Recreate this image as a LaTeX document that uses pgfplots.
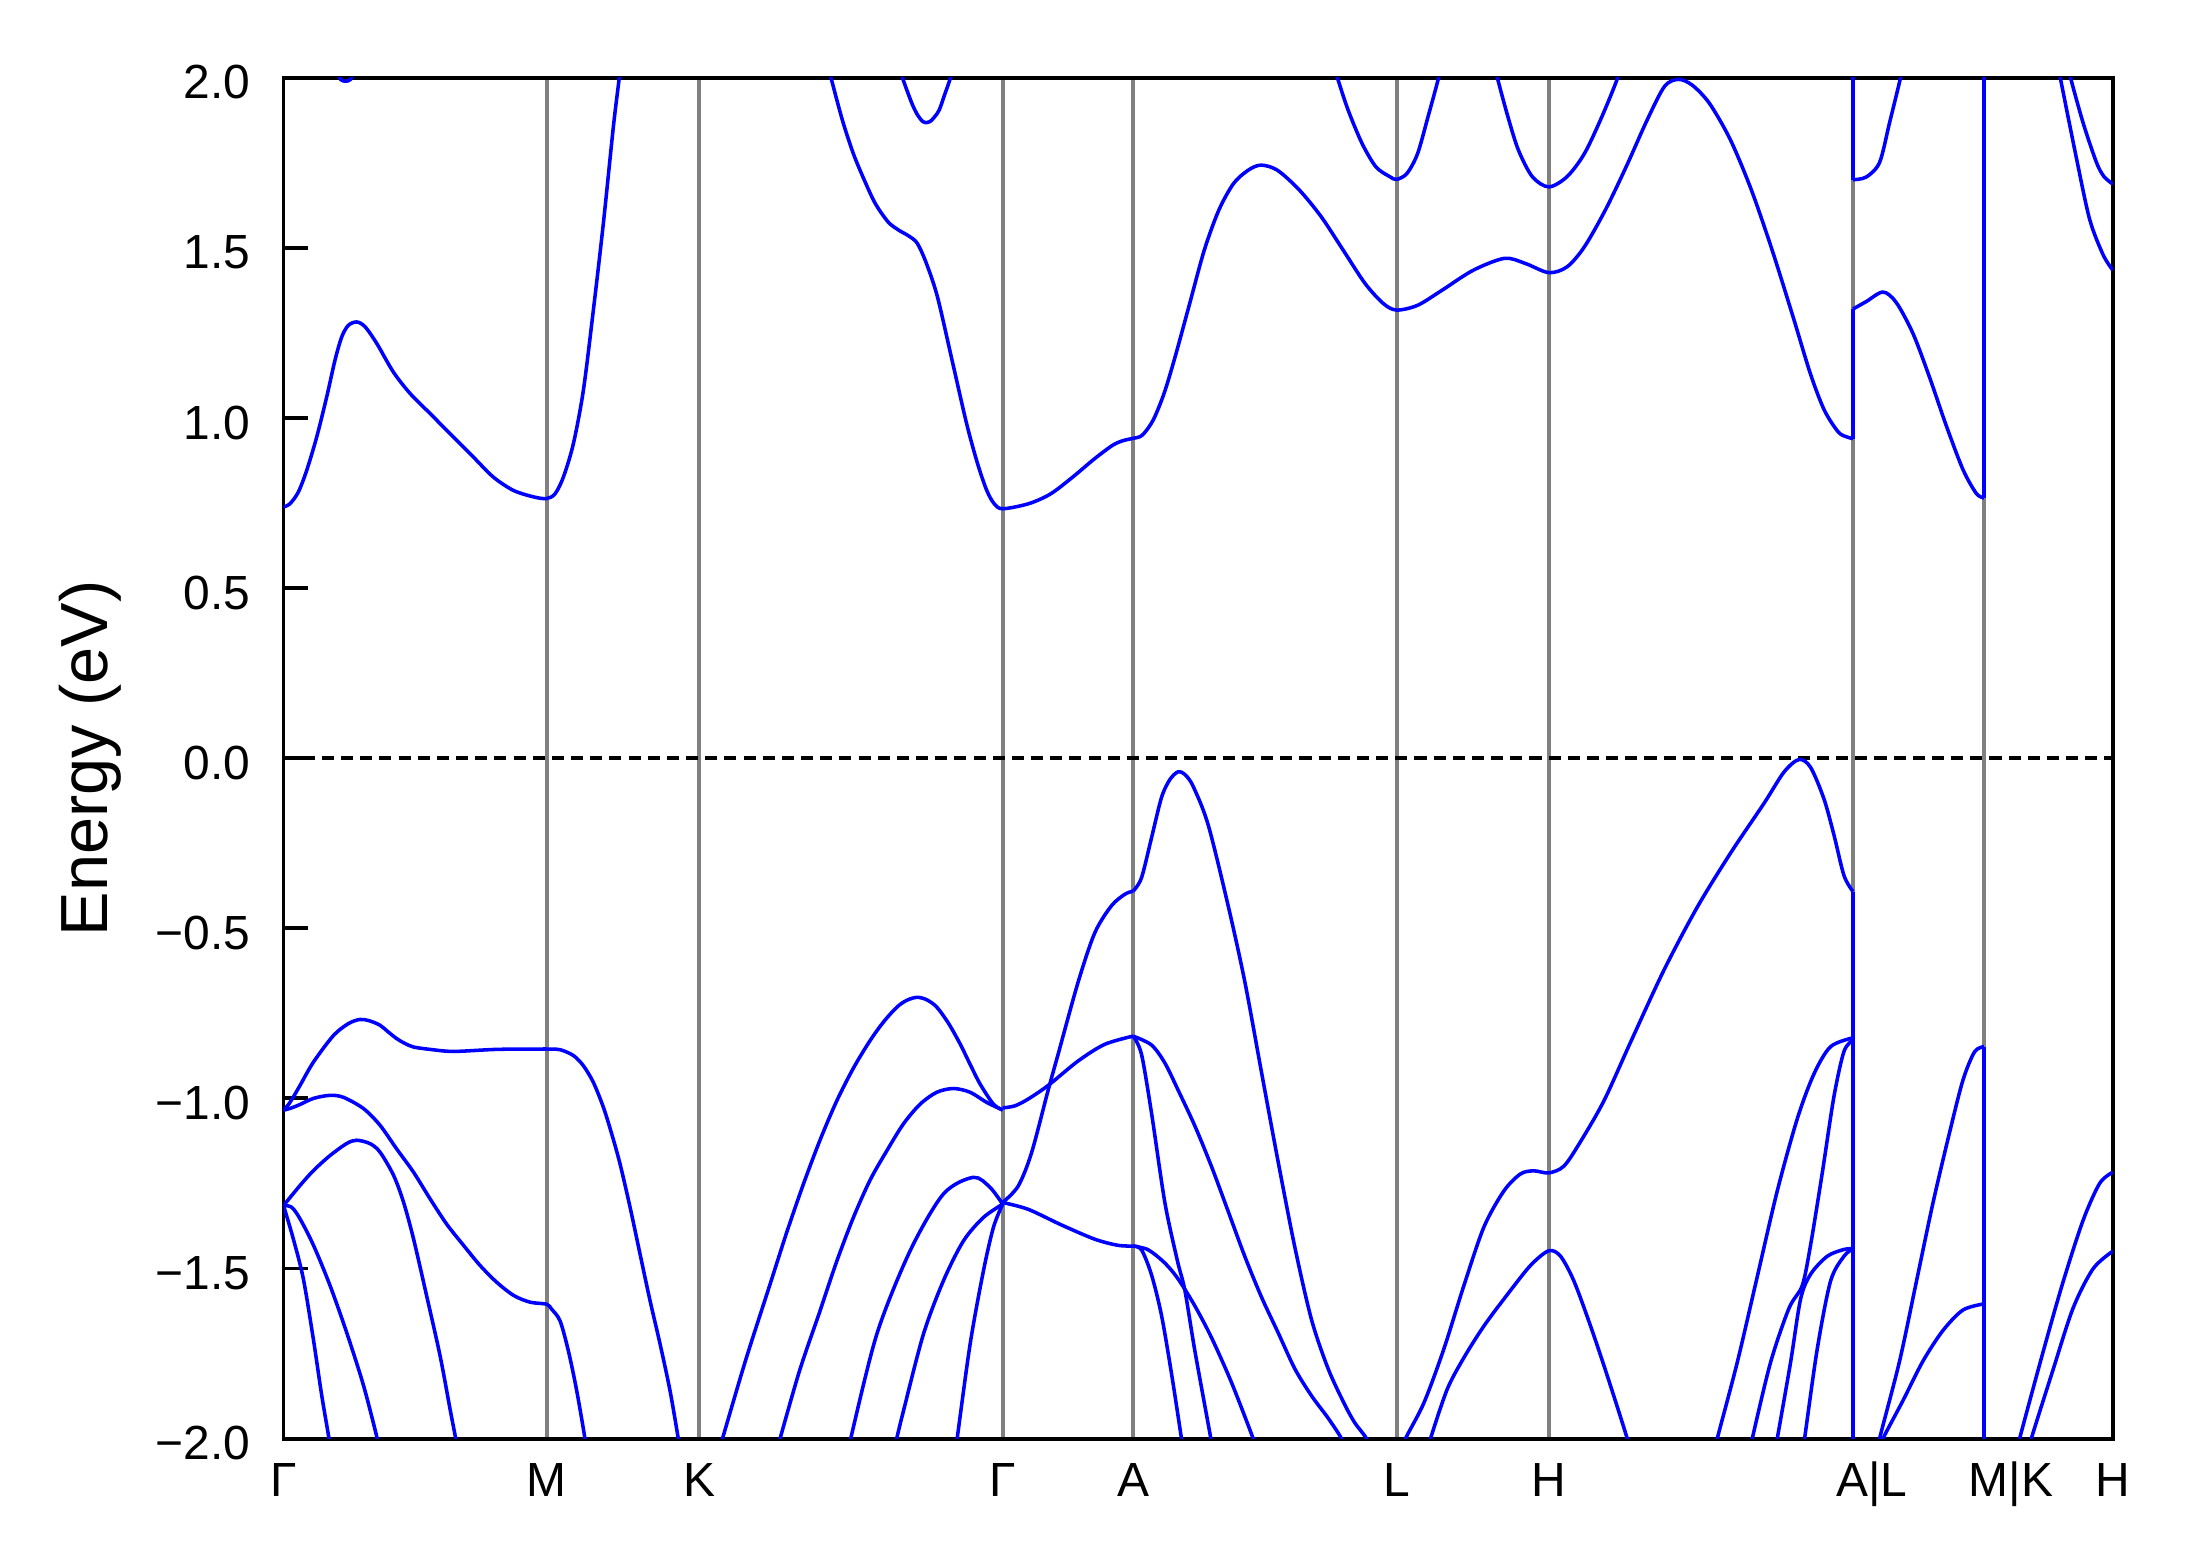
\documentclass[border=0pt]{standalone}
\usepackage{fontspec}
\setmainfont{Liberation Sans}
\usepackage{pgfplots}
\pgfplotsset{compat=1.18}
\begin{document}
\begin{tikzpicture}
\useasboundingbox (-68.04pt,-30.9pt) rectangle (457.76pt,345.25pt);
\begin{axis}[
  at={(0,0)}, anchor=south west,
  scale only axis, width=439pt, height=326.6pt,
  xmin=0, xmax=1829, ymin=-2, ymax=2,
  xtick={0,263,415.5,719,849.5,1113,1265,1569.2,1700.2,1829},
  xticklabels={Γ,M,K,Γ,A,L,H,\hspace*{9pt}A|L,\hspace*{13pt}M|K,H},
  ytick={-2,-1.5,-1,-0.5,0,0.5,1,1.5,2},
  yticklabels={−2.0,−1.5,−1.0,−0.5,0.0,0.5,1.0,1.5,2.0},
  xmajorgrids,
  major grid style={color=gray, line width=0.95pt},
  xtick style={draw=none},
  ytick pos=left, tick align=inside,
  ytick style={black, line width=0.95pt},
  major tick length=5.8pt,
  axis line style={line width=0.95pt},
  ticklabel style={font=\fontsize{11.5}{13}\selectfont},
  xticklabel style={anchor=base, yshift=-14pt},
  yticklabel style={anchor=east, inner sep=0pt, xshift=-7.8pt, yshift=-1.15pt},
  ylabel={Energy (eV)},
  ylabel style={at={(axis description cs:-0.1057,0.5)}, anchor=center, font=\fontsize{16}{19}\selectfont},
  band/.style={color=blue, line width=0.85pt, smooth, line join=round},
  vband/.style={color=blue, line width=0.85pt},
]
% Fermi level
\addplot[black, line width=0.8pt, dash pattern=on 2.9pt off 1.7pt] coordinates {(0,0) (1829,0)};

% ---------- conduction bands ----------
\addplot[band] coordinates {(0,0.738) (6.5,0.748) (14.8,0.782) (23.2,0.846) (33.2,0.944) (43.2,1.062) (51.5,1.170) (58.2,1.238) (64.8,1.272) (73.2,1.282) (81.5,1.268) (93.2,1.219) (109.8,1.135) (126.5,1.072) (146.5,1.013) (169.8,0.944) (189.8,0.885) (209.8,0.826) (229.8,0.787) (249.8,0.768) (263,0.763) (271.5,0.777) (279.8,0.826) (289.8,0.924) (299.8,1.081) (309.8,1.317) (319.8,1.572) (329.8,1.856) (335.8,2.003) (337,2.05)};
\addplot[band] coordinates {(52,2.03) (57,1.995) (62,1.99) (67,1.995) (72,2.03)};
\addplot[band] coordinates {(545,2.03) (547.1,2.003) (558.8,1.875) (569.7,1.777) (580.7,1.699) (591.7,1.630) (604.5,1.576) (615,1.552) (625,1.535) (633.7,1.513) (642.8,1.454) (653.8,1.356) (668.4,1.170) (683.0,0.983) (693.9,0.866) (703.1,0.787) (710.5,0.748) (719,0.733) (745.2,0.748) (767.1,0.777) (789,0.826) (810.9,0.880) (829.2,0.920) (840.2,0.934) (849.5,0.940) (858.5,0.949) (869.4,0.993) (880.4,1.072) (891.4,1.179) (906,1.336) (920.6,1.493) (935.2,1.611) (949.9,1.689) (964.5,1.728) (977.3,1.743) (993.7,1.728) (1015.6,1.670) (1037.6,1.591) (1059.5,1.493) (1081.4,1.395) (1099.7,1.336) (1113,1.317) (1133.9,1.331) (1158.2,1.375) (1189.5,1.434) (1220.8,1.469) (1241.6,1.454) (1265,1.427) (1283.3,1.444) (1300.7,1.503) (1321.6,1.611) (1342.4,1.738) (1363.3,1.875) (1380.7,1.974) (1394.6,1.995) (1408.5,1.978) (1425.8,1.924) (1446.7,1.817) (1467.6,1.670) (1488.4,1.493) (1509.3,1.297) (1526.6,1.130) (1540.5,1.023) (1554.4,0.959) (1563.1,0.944) (1569.2,0.939)};
\addplot[band] coordinates {(1569.2,1.320) (1582.5,1.342) (1599.2,1.370) (1612.5,1.339) (1629.2,1.248) (1645.8,1.119) (1662.5,0.977) (1679.2,0.848) (1692.5,0.778) (1700.2,0.765)};
\addplot[band] coordinates {(617,2.03) (619.1,1.998) (628.2,1.925) (634,1.89) (639.2,1.871) (643,1.868) (646.5,1.871) (651,1.885) (655.6,1.905) (661,1.95) (666.6,1.998) (668,2.03)};
\addplot[band] coordinates {(1051,2.03) (1053.9,1.998) (1064.4,1.905) (1078.3,1.807) (1092.2,1.738) (1106.1,1.709) (1113,1.701) (1123.4,1.719) (1133.9,1.777) (1144.3,1.885) (1154.7,1.998) (1156,2.03)};
\addplot[band] coordinates {(1212,2.03) (1213.8,1.998) (1224.2,1.885) (1234.7,1.787) (1248.6,1.709) (1265,1.679) (1283.3,1.709) (1300.7,1.777) (1318.1,1.885) (1333.7,1.998) (1335,2.03)};
\addplot[band] coordinates {(1569.2,1.700) (1582.5,1.708) (1595.8,1.751) (1605.8,1.868) (1617.5,2.01) (1619,2.05)};
\addplot[band] coordinates {(1775,2.03) (1775.8,2.01) (1792.5,1.765) (1805.8,1.584) (1819.2,1.48) (1829,1.434)};
\addplot[band] coordinates {(1785,2.03) (1785.8,2.01) (1799.2,1.868) (1812.5,1.752) (1820,1.71) (1829,1.687)};

% ---------- valence bands ----------
% Gamma - M - K
\addplot[band] coordinates {(0,-1.035) (5,-1.018) (10,-0.995) (16.5,-0.962) (30,-0.893) (50,-0.815) (65,-0.78) (76.5,-0.768) (86,-0.772) (96.5,-0.785) (104,-0.803) (113,-0.824) (121,-0.838) (130,-0.849) (146.5,-0.856) (170,-0.862) (213,-0.856) (256.5,-0.855) (263,-0.855) (276.5,-0.857) (289.8,-0.874) (299.8,-0.904) (309.8,-0.953) (319.8,-1.026) (328.2,-1.105) (336.5,-1.193) (346.5,-1.320) (356.5,-1.458) (366.5,-1.595) (376.5,-1.722) (386.5,-1.860) (394.8,-2.002) (396,-2.03)};
\addplot[band] coordinates {(0,-1.035) (8,-1.028) (16.5,-1.018) (30,-1.0) (46.5,-0.991) (60,-0.997) (80,-1.030) (96.5,-1.079) (113,-1.148) (130,-1.217) (146.5,-1.295) (163,-1.369) (180,-1.432) (196.5,-1.491) (213,-1.540) (230,-1.579) (246.5,-1.599) (263,-1.605) (268.2,-1.620) (276.5,-1.654) (284.8,-1.742) (293.2,-1.860) (301.5,-2.002) (302,-2.03)};
\addplot[band] coordinates {(0,-1.315) (16.5,-1.256) (30,-1.212) (46.5,-1.168) (63,-1.133) (73,-1.123) (86.5,-1.133) (96.5,-1.158) (110,-1.226) (120,-1.305) (130,-1.413) (143,-1.579) (156.5,-1.756) (166.5,-1.913) (172.5,-2.006) (173,-2.03)};
\addplot[band] coordinates {(0,-1.315) (8.2,-1.32) (16.5,-1.354) (30,-1.432) (46.5,-1.550) (63,-1.687) (80,-1.844) (94.2,-2.006) (95,-2.03)};
\addplot[band] coordinates {(0,-1.315) (9.8,-1.413) (19.8,-1.530) (29.8,-1.707) (38.2,-1.873) (45.8,-2.006) (46,-2.03)};
% K - Gamma
\addplot[band] coordinates {(436,-2.03) (438.2,-2.007) (462,-1.77) (486.5,-1.546) (503,-1.395) (519.8,-1.252) (536.5,-1.122) (553.2,-1.007) (570,-0.910) (586.5,-0.830) (600,-0.775) (613.2,-0.732) (623,-0.712) (633.2,-0.703) (643,-0.710) (653.2,-0.732) (665,-0.780) (676.5,-0.840) (686.5,-0.900) (696.5,-0.958) (709.8,-1.017) (719,-1.034)};
\addplot[band] coordinates {(494,-2.03) (495.8,-2.007) (516,-1.80) (536.5,-1.624) (553,-1.48) (569.8,-1.35) (586.5,-1.24) (603.2,-1.154) (619.8,-1.075) (636.5,-1.017) (653.2,-0.982) (669.8,-0.971) (686.5,-0.982) (703.2,-1.012) (719,-1.034)};
\addplot[band] coordinates {(565,-2.03) (566.5,-2.007) (593.2,-1.693) (626.5,-1.448) (659.8,-1.281) (689.8,-1.232) (706.5,-1.262) (719,-1.311)};
\addplot[band] coordinates {(611,-2.03) (612.5,-2.007) (619.8,-1.919) (639.8,-1.693) (659.8,-1.536) (679.8,-1.419) (699.8,-1.350) (719,-1.311)};
\addplot[band] coordinates {(672,-2.03) (673.2,-2.007) (686.5,-1.722) (699.8,-1.507) (709.8,-1.379) (719,-1.311)};
% Gamma - A
\addplot[band] coordinates {(719,-1.028) (731.2,-1.022) (744.5,-1.002) (764.5,-0.962) (794.5,-0.89) (821.2,-0.841) (849.5,-0.817)};
\addplot[band] coordinates {(719,-1.306) (734.5,-1.258) (747.8,-1.161) (764.5,-0.976) (774.5,-0.87) (794.5,-0.658) (811.2,-0.513) (827.8,-0.434) (841.2,-0.40) (849.5,-0.391)};
\addplot[band] coordinates {(719,-1.306) (744.5,-1.326) (777.8,-1.372) (811.2,-1.414) (834.5,-1.432) (849.5,-1.434)};
% A - L
\addplot[band] coordinates {(849.5,-0.391) (857.8,-0.352) (867.8,-0.235) (877.8,-0.116) (886.2,-0.063) (894.5,-0.040) (901.2,-0.048) (909.5,-0.083) (924.5,-0.196) (944.5,-0.434) (961.2,-0.658) (977.8,-0.923) (994.5,-1.187) (1011.2,-1.438) (1027.8,-1.65) (1044.5,-1.795) (1061.2,-1.901) (1071.2,-1.954) (1082.8,-2.0) (1086,-2.04)};
\addplot[band] coordinates {(849.5,-0.817) (867.8,-0.843) (881.2,-0.896) (894.5,-0.976) (911.2,-1.081) (927.8,-1.2) (944.5,-1.332) (961.2,-1.465) (977.8,-1.584) (994.5,-1.689) (1011.2,-1.795) (1027.8,-1.874) (1044.5,-1.94) (1057.8,-2.0) (1060,-2.03)};
\addplot[band] coordinates {(849.5,-0.817) (857.8,-0.87) (867.8,-1.042) (881.2,-1.306) (893.8,-1.478) (901.2,-1.564) (911.2,-1.742) (927.2,-2.0) (929,-2.03)};
\addplot[band] coordinates {(849.5,-1.434) (857.8,-1.445) (867.8,-1.518) (877.8,-1.637) (887.8,-1.808) (897.8,-2.0) (899,-2.03)};
\addplot[band] coordinates {(849.5,-1.434) (864.5,-1.445) (881.2,-1.484) (894.5,-1.531) (911.2,-1.61) (927.8,-1.703) (947.8,-1.835) (969.5,-2.0) (972,-2.03)};
% L - H - A
\addplot[band] coordinates {(1120,-2.03) (1121.8,-2.0) (1140.2,-1.895) (1160.2,-1.736) (1180.2,-1.55) (1200.2,-1.378) (1220.2,-1.272) (1236.8,-1.222) (1250.2,-1.213) (1265,-1.219) (1280.2,-1.199) (1296.8,-1.127) (1320.2,-1.007) (1346.8,-0.835) (1380.2,-0.623) (1413.5,-0.438) (1446.8,-0.279) (1480.2,-0.133) (1500.2,-0.041) (1515.2,-0.004) (1526.8,-0.027) (1540.2,-0.120) (1550.2,-0.226) (1560.2,-0.345) (1569.2,-0.392)};
\addplot[band] coordinates {(1145,-2.03) (1146.8,-2.0) (1163.5,-1.855) (1180.2,-1.762) (1200.2,-1.669) (1223.5,-1.577) (1246.8,-1.491) (1265,-1.448) (1276.8,-1.464) (1290.2,-1.537) (1306.8,-1.669) (1323.5,-1.815) (1343.5,-2.0) (1345,-2.03)};
\addplot[band] coordinates {(1432,-2.03) (1433.5,-2.0) (1453.5,-1.776) (1473.5,-1.524) (1493.5,-1.272) (1513.5,-1.06) (1530.2,-0.928) (1546.8,-0.848) (1569.2,-0.822)};
\addplot[band] coordinates {(1467,-2.03) (1468.5,-2.0) (1486.8,-1.776) (1505.2,-1.617) (1518.5,-1.55) (1526.8,-1.431) (1538.5,-1.219) (1550.2,-0.994) (1560.2,-0.862) (1569.2,-0.829)};
\addplot[band] coordinates {(1492,-2.03) (1493.5,-2.0) (1506.8,-1.776) (1516.8,-1.59) (1526.8,-1.517) (1543.5,-1.464) (1560.2,-1.444) (1569.2,-1.442)};
\addplot[band] coordinates {(1519,-2.03) (1520.8,-2.0) (1533.5,-1.736) (1546.8,-1.537) (1560.2,-1.464) (1569.2,-1.442)};
% L - M
\addplot[band] coordinates {(1595,-2.03) (1595.8,-2.0) (1615.8,-1.772) (1632.5,-1.54) (1649.2,-1.307) (1665.8,-1.1) (1679.2,-0.946) (1690.8,-0.863) (1700.2,-0.848)};
\addplot[band] coordinates {(1597,-2.03) (1599.2,-2.0) (1619.2,-1.888) (1639.2,-1.772) (1659.2,-1.682) (1679.2,-1.622) (1700.2,-1.604)};
% K - H
\addplot[band] coordinates {(1734,-2.03) (1735.8,-2.0) (1759.2,-1.746) (1779.2,-1.54) (1799.2,-1.359) (1815.8,-1.25) (1829,-1.217)};
\addplot[band] coordinates {(1746,-2.03) (1747.5,-2.0) (1769.2,-1.798) (1789.2,-1.617) (1809.2,-1.501) (1829,-1.449)};

% ---------- discontinuities at A|L and M|K ----------
\addplot[vband] coordinates {(1569.2,2.05) (1569.2,1.700)};
\addplot[vband] coordinates {(1569.2,1.320) (1569.2,0.939)};
\addplot[vband] coordinates {(1569.2,-0.392) (1569.2,-2.05)};
\addplot[vband] coordinates {(1700.2,2.05) (1700.2,0.765)};
\addplot[vband] coordinates {(1700.2,-0.848) (1700.2,-2.05)};
\end{axis}
\end{tikzpicture}
\end{document}
